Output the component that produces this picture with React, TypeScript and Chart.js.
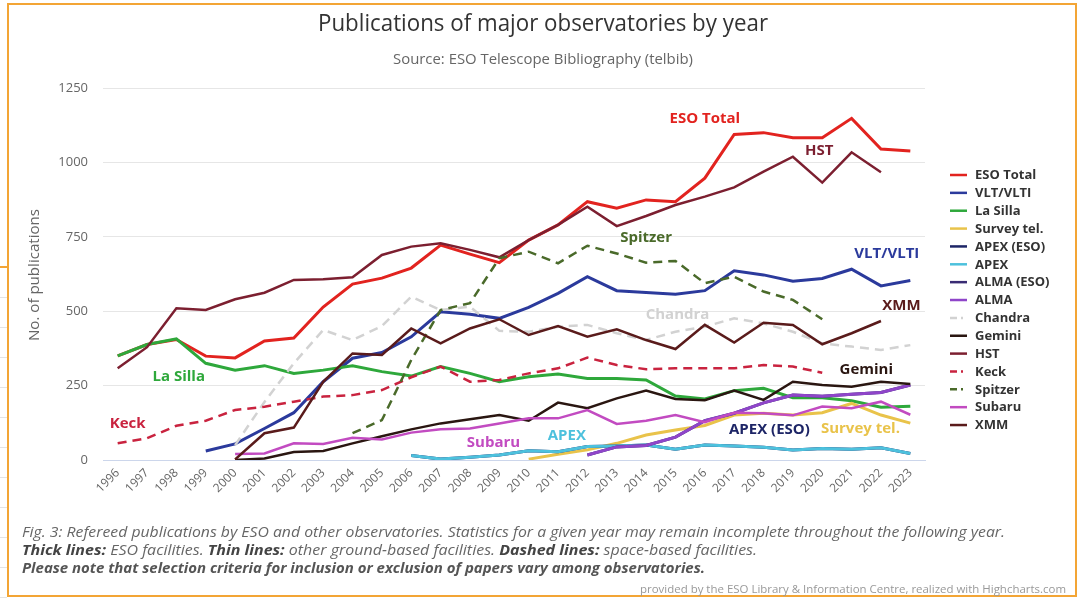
import React, { useEffect, useRef } from "react";
import { Chart, registerables } from "chart.js";

Chart.register(...registerables);

const years = ["1996","1997","1998","1999","2000","2001","2002","2003","2004","2005","2006","2007","2008","2009","2010","2011","2012","2013","2014","2015","2016","2017","2018","2019","2020","2021","2022","2023"];
const yTicks = [0, 250, 500, 750, 1000, 1250];

const esoTotal = [350,388,405,349,343,400,410,514,591,611,645,722,692,663,739,790,868,846,874,868,947,1094,1100,1083,1083,1148,1045,1038];
const vltVlti = [null,null,null,30,54,106,159,263,342,361,414,498,490,476,513,560,616,569,563,557,569,636,622,601,610,641,585,603];
const laSilla = [350,388,407,325,302,317,291,302,317,297,282,314,291,263,280,289,274,274,269,215,205,233,241,209,209,199,177,181];
const surveyTel = [null,null,null,null,null,null,null,null,null,null,null,null,null,null,3,19,34,56,84,101,116,151,157,151,159,190,151,124];
const apexEso = [null,null,null,null,null,null,null,null,null,null,15,3,9,17,31,28,45,47,50,36,50,47,43,34,39,36,41,22];
const apex = [null,null,null,null,null,null,null,null,null,null,15,3,9,17,31,28,45,47,50,36,50,47,43,34,39,36,41,22];
const almaEso = [null,null,null,null,null,null,null,null,null,null,null,null,null,null,null,null,17,44,49,77,132,157,192,218,214,221,227,252];
const alma = [null,null,null,null,null,null,null,null,null,null,null,null,null,null,null,null,17,44,49,77,132,157,192,218,214,221,227,252];
const chandra = [null,null,null,null,50,195,325,437,403,450,549,504,515,434,431,448,454,426,403,431,448,476,459,431,392,381,370,386];
const gemini = [null,null,null,null,0,5,27,30,56,80,103,123,137,151,132,193,174,207,233,205,201,233,202,263,252,246,263,255];
const hst = [308,379,510,504,540,562,605,607,614,689,717,728,706,681,739,790,851,786,820,857,885,916,969,1019,932,1034,967,null];
const keck = [56,73,115,132,168,179,196,213,218,235,278,314,263,269,291,308,344,319,305,308,308,308,319,314,293,null,null,null];
const spitzer = [null,null,null,null,null,null,null,null,90,134,336,504,527,678,700,661,720,694,663,669,594,616,566,538,473,null,null,null];
const subaru = [null,null,null,null,20,22,56,54,75,69,92,103,106,123,140,140,168,121,132,151,127,159,157,150,180,174,196,152];
const xmm = [null,null,null,null,2,90,109,263,358,353,442,392,442,473,420,450,414,439,403,373,454,395,461,454,389,426,467,null];

const seriesNames = ["ESO Total","VLT/VLTI","La Silla","Survey tel.","APEX (ESO)","APEX","ALMA (ESO)","ALMA","Chandra","Gemini","HST","Keck","Spitzer","Subaru","XMM"];
const seriesData = [esoTotal, vltVlti, laSilla, surveyTel, apexEso, apex, almaEso, alma, chandra, gemini, hst, keck, spitzer, subaru, xmm];
const seriesColors = ["#e2231f","#2b3a9c","#2ea83b","#e9c34a","#1d2566","#4dc1dd","#3a2c74","#8f45c9","#d2d2d2","#2a1611","#7c1f30","#c9233f","#4a6a2a","#c24bc1","#5a1b1b"];
const seriesWidths = [3,3,3,3,3,3,3,3,2.5,2.5,2.5,2.5,2.5,2.5,2.5];
const seriesDashed = [false,false,false,false,false,false,false,false,true,false,false,true,true,false,false];

// in-chart labels anchored in data coordinates (year index, value)
const labelTexts = ["ESO Total","HST","Spitzer","VLT/VLTI","Chandra","XMM","La Silla","Keck","Gemini","Subaru","APEX","APEX (ESO)","Survey tel."];
const labelYears = [20.0, 23.9, 18.0, 26.2, 19.07, 26.7, 2.08, 0.34, 25.5, 12.8, 15.3, 22.2, 25.3];
const labelValues = [1146, 1038, 746, 692, 487, 517, 279, 121, 302, 57, 81, 101, 104];
const labelColors = ["#e2231f","#7c1f30","#4a6a2a","#2b3a9c","#d2d2d2","#5a1b1b","#2ea83b","#c9233f","#2a1611","#c24bc1","#4dc1dd","#1d2566","#e9c34a"];

const titleText = "Publications of major observatories by year";
const subtitleText = "Source: ESO Telescope Bibliography (telbib)";
const yAxisTitle = "No. of publications";
const creditsText = "provided by the ESO Library & Information Centre, realized with Highcharts.com";

const FONT = "'Open Sans', 'Noto Sans', sans-serif";

type Seg = { text: string; font: string; color: string };

function drawFitted(ctx: CanvasRenderingContext2D, segs: Seg[], x: number, y: number, targetW: number, align: "left" | "center" | "right") {
  let total = 0;
  for (const s of segs) { ctx.font = s.font; total += ctx.measureText(s.text).width; }
  const sc = targetW / total;
  const startX = align === "left" ? x : align === "center" ? x - targetW / 2 : x - targetW;
  ctx.save();
  ctx.translate(startX, y);
  ctx.scale(sc, 1);
  ctx.textBaseline = "middle";
  ctx.textAlign = "left";
  let cx = 0;
  for (const s of segs) {
    ctx.font = s.font;
    ctx.fillStyle = s.color;
    ctx.fillText(s.text, cx, 0);
    cx += ctx.measureText(s.text).width;
  }
  ctx.restore();
}

const decorPlugin = {
  id: "decor",
  beforeDraw(chart: any) {
    const ctx: CanvasRenderingContext2D = chart.ctx;
    ctx.save();
    ctx.fillStyle = "#ffffff";
    ctx.fillRect(0, 0, chart.width, chart.height);
    // left sliver of neighbouring page content
    ctx.strokeStyle = "#e4e4e4";
    ctx.lineWidth = 1;
    for (let yy = 297; yy < 598; yy += 30) {
      ctx.beginPath(); ctx.moveTo(0, yy + 0.5); ctx.lineTo(7, yy + 0.5); ctx.stroke();
    }
    ctx.strokeStyle = "#f3a535";
    ctx.lineWidth = 2;
    ctx.beginPath(); ctx.moveTo(0, 267); ctx.lineTo(7, 267); ctx.stroke();
    ctx.strokeRect(8, 4, 1068, 592);
    ctx.restore();

    const c = chart.ctx;
    drawFitted(c, [{ text: titleText, font: `24px ${FONT}`, color: "#333333" }], 543, 24, 450, "center");
    drawFitted(c, [{ text: subtitleText, font: `14px ${FONT}`, color: "#666666" }], 543, 60, 300, "center");
    const it = `italic 14px ${FONT}`;
    const bi = `italic bold 14px ${FONT}`;
    drawFitted(c, [{ text: "Fig. 3: Refereed publications by ESO and other observatories. Statistics for a given year may remain incomplete throughout the following year.", font: it, color: "#666666" }], 22, 533, 983, "left");
    drawFitted(c, [
      { text: "Thick lines:", font: bi, color: "#444444" },
      { text: " ESO facilities. ", font: it, color: "#666666" },
      { text: "Thin lines:", font: bi, color: "#444444" },
      { text: " other ground-based facilities. ", font: it, color: "#666666" },
      { text: "Dashed lines:", font: bi, color: "#444444" },
      { text: " space-based facilities.", font: it, color: "#666666" },
    ], 22, 551, 735, "left");
    drawFitted(c, [{ text: "Please note that selection criteria for inclusion or exclusion of papers vary among observatories.", font: bi, color: "#555555" }], 22, 569, 683, "left");
    drawFitted(c, [{ text: creditsText, font: `11px ${FONT}`, color: "#999999" }], 1066, 590, 426, "right");

    // y axis title
    c.save();
    c.translate(35, 275);
    c.rotate(-Math.PI / 2);
    drawFitted(c, [{ text: yAxisTitle, font: `14px ${FONT}`, color: "#666666" }], 0, 0, 132, "center");
    c.restore();
  },
  afterDatasetsDraw(chart: any) {
    const ctx: CanvasRenderingContext2D = chart.ctx;
    const xs = chart.scales.x;
    const ys = chart.scales.y;
    ctx.save();
    ctx.textAlign = "center";
    ctx.textBaseline = "middle";
    ctx.font = `bold 15px ${FONT}`;
    for (let i = 0; i < labelTexts.length; i++) {
      ctx.fillStyle = labelColors[i];
      ctx.fillText(labelTexts[i], xs.getPixelForValue(labelYears[i]), ys.getPixelForValue(labelValues[i]));
    }
    ctx.restore();

    // legend
    ctx.save();
    ctx.font = `bold 13px ${FONT}`;
    ctx.textBaseline = "middle";
    ctx.textAlign = "left";
    const ds = chart.data.datasets;
    for (let i = 0; i < ds.length; i++) {
      const y = 175 + i * 17.86;
      ctx.strokeStyle = ds[i].borderColor;
      ctx.lineWidth = 2.5;
      ctx.setLineDash(seriesDashed[i] ? [7, 4, 2, 4] : []);
      ctx.beginPath(); ctx.moveTo(950, y); ctx.lineTo(967, y); ctx.stroke();
      ctx.setLineDash([]);
      ctx.fillStyle = "#333333";
      ctx.fillText(ds[i].label, 975, y + 0.5);
    }
    ctx.restore();
  },
};

export default function App() {
  const ref = useRef<HTMLCanvasElement | null>(null);
  useEffect(() => {
    if (!ref.current) return;
    const datasets = seriesNames.map((name, i) => ({
      label: name,
      data: seriesData[i],
      borderColor: seriesColors[i],
      backgroundColor: seriesColors[i],
      borderWidth: seriesWidths[i],
      borderDash: seriesDashed[i] ? [9, 6] : [],
      pointRadius: 0,
      tension: 0,
      fill: false,
      spanGaps: false,
      order: 100 - i,
    }));
    const chart = new Chart(ref.current, {
      type: "line",
      data: { labels: years, datasets },
      options: {
        animation: false,
        responsive: false,
        devicePixelRatio: 1,
        layout: { padding: { top: 88, right: 155, left: 0, bottom: 0 } },
        plugins: { legend: { display: false }, title: { display: false }, tooltip: { enabled: false } },
        scales: {
          x: {
            type: "category",
            offset: true,
            grid: { display: false, drawTicks: false },
            border: { display: true, color: "#ccd6eb", width: 1 },
            ticks: {
              autoSkip: false,
              minRotation: 45,
              maxRotation: 45,
              padding: 6,
              color: "#666666",
              font: { family: FONT, size: 12 },
            },
            afterFit: (s: any) => { s.height = 138; },
          },
          y: {
            min: 0,
            max: 1250,
            afterBuildTicks: (s: any) => { s.ticks = yTicks.map((v) => ({ value: v })); },
            grid: {
              drawTicks: false,
              color: (c: any) => (c.tick && c.tick.value === 0 ? "#ccd6eb" : "#e6e6e6"),
            },
            border: { display: false },
            ticks: {
              padding: 15,
              color: "#666666",
              font: { family: FONT, size: 13 },
              callback: (v: any) => String(v),
            },
            afterFit: (s: any) => { s.width = 103; },
          },
        },
      },
      plugins: [decorPlugin],
    } as any);
    return () => chart.destroy();
  }, []);
  return (
    <div style={{ position: "fixed", left: 0, top: 0, width: 1080, height: 598, background: "#fff" }}>
      <canvas ref={ref} width={1080} height={598} style={{ display: "block", width: 1080, height: 598 }} />
    </div>
  );
}
